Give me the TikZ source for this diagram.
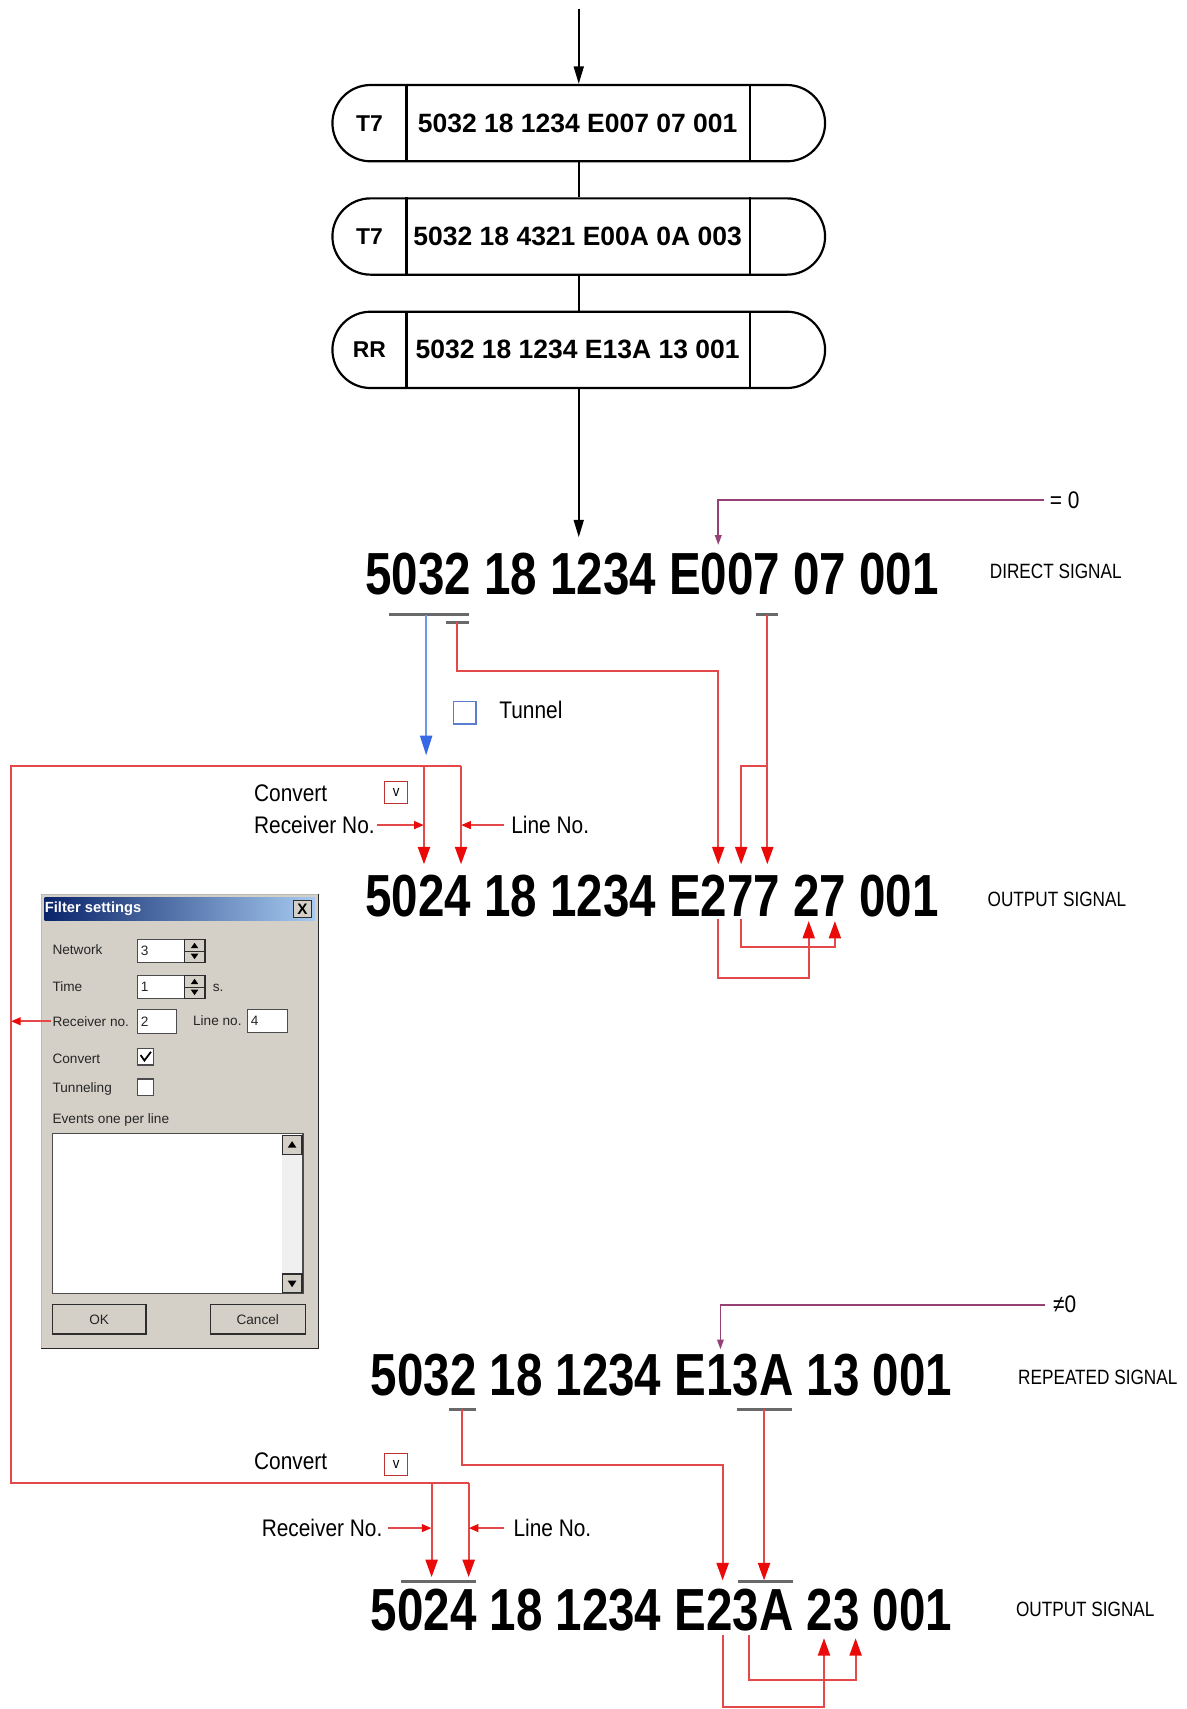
\documentclass[tikz,border=0pt]{standalone}
\usepackage{fontspec}
\setmainfont{Liberation Sans}
\newfontfamily\bigfont[FakeStretch=0.80]{Liberation Sans}
\newfontfamily\notefont[FakeStretch=0.87]{Liberation Sans}
\newfontfamily\sigfont[FakeStretch=0.83]{Liberation Sans}
\usetikzlibrary{arrows.meta,positioning,calc}

\definecolor{lred}{RGB}{228,72,72}
\definecolor{tipred}{RGB}{235,10,10}
\definecolor{lblue}{RGB}{110,150,235}
\definecolor{tipblue}{RGB}{55,105,230}
\definecolor{mauve}{RGB}{150,65,115}
\definecolor{bargray}{RGB}{105,105,105}
\definecolor{cbred}{RGB}{190,50,50}
\definecolor{tunblue}{RGB}{90,125,205}
\definecolor{dlgbg}{RGB}{212,208,200}
\definecolor{dlgtl}{RGB}{10,36,106}
\definecolor{dlgtr}{RGB}{166,202,240}

\tikzset{
  term/.style={draw, line width=2pt, rounded corners=35pt,
               minimum width=452pt, minimum height=70pt},
  termlbl/.style={inner sep=0pt, font=\fontsize{21}{21}\selectfont\bfseries},
  termtxt/.style={inner sep=0pt, font=\fontsize{24.3}{24}\selectfont\bfseries},
  bigsig/.style={inner sep=0pt, anchor=west,
                 font=\bigfont\fontsize{54.5}{55}\selectfont\bfseries},
  siglbl/.style={inner sep=0pt, anchor=west, font=\sigfont\fontsize{19}{19}\selectfont},
  note/.style={inner sep=0pt, anchor=west, font=\notefont\fontsize{22}{22}\selectfont},
  blkln/.style={draw=black, line width=2pt},
  blkarr/.style={blkln, -{Triangle[width=9pt,length=16pt]}},
  redln/.style={draw=lred, line width=2pt},
  redarr/.style={redln, -{Triangle[width=11pt,length=16pt,color=tipred]}},
  redarrs/.style={redln, -{Triangle[width=7pt,length=9pt,color=tipred]}},
  bluearr/.style={draw=lblue, line width=2pt, -{Triangle[width=11pt,length=18pt,color=tipblue]}},
  mauvearr/.style={draw=mauve, line width=1.6pt, -{Triangle[width=6pt,length=9pt]}},
  bar/.style={draw=bargray, line width=3pt},
  cbox/.style={draw=cbred, line width=1.3pt, minimum width=21pt, minimum height=20pt,
               inner sep=0pt, font=\notefont\fontsize{14}{14}\selectfont},
  tbox/.style={draw=tunblue, line width=1.6pt, minimum size=21pt, inner sep=0pt},
  dlglbl/.style={inner sep=0pt, anchor=west, text=black!85,
                 font=\fontsize{12.5}{13}\selectfont},
  dlgttl/.style={inner sep=0pt, anchor=west, text=white,
                 font=\fontsize{13.5}{14}\selectfont\bfseries},
  dlgfld/.style={fill=white, draw=gray!60!black, line width=1.2pt},
  dlgbtn/.style={fill=dlgbg, draw=gray!35!black, line width=1.2pt},
}

\begin{document}
\begin{tikzpicture}[x=1pt,y=-1pt,line join=miter]
\fill[white, use as bounding box] (0,0) rectangle (1089,1568);

% ---- terminals ----
\node[term] (t1) at (531,113) {};
\node[term] (t2) at (531,217) {};
\node[term] (t3) at (531,321) {};
\foreach \t in {t1,t2,t3}{
  \draw[blkln] ($(\t.north west)+(69,0)$) -- ($(\t.south west)+(69,0)$);
  \draw[blkln] ($(\t.north east)+(-70,0)$) -- ($(\t.south east)+(-70,0)$);
}
\node[termlbl] (t1l) at (339,113) {T7};
\node[termtxt] (t1t) at (530,113) {5032 18 1234 E007 07 001};
\node[termlbl] (t2l) at (339,217) {T7};
\node[termtxt] (t2t) at (530,217) {5032 18 4321 E00A 0A 003};
\node[termlbl] (t3l) at (339,321) {RR};
\node[termtxt] (t3t) at (530,321) {5032 18 1234 E13A 13 001};

\coordinate (feed) at (531,8);
\coordinate (sig1in) at (531,493);
\draw[blkarr] (feed) -- (t1.north);
\draw[blkln] (t1.south) -- (t2.north);
\draw[blkln] (t2.south) -- (t3.north);
\draw[blkarr] (t3.south) -- (sig1in);

% ---- signals ----
\node[bigsig] (sig1) at (335,527)  {5032 18 1234 E007 07 001};
\node[bigsig] (sig2) at (335,822)  {5024 18 1234 E277 27 001};
\node[bigsig] (sig3) at (340,1262) {5032 18 1234 E13A 13 001};
\node[bigsig] (sig4) at (340,1477) {5024 18 1234 E23A 23 001};
\node[siglbl] (sig1l) at (908,524)  {DIRECT SIGNAL};
\node[siglbl] (sig2l) at (906,825)  {OUTPUT SIGNAL};
\node[siglbl] (sig3l) at (934,1264) {REPEATED SIGNAL};
\node[siglbl] (sig4l) at (932,1477) {OUTPUT SIGNAL};

% ---- event byte test ----
\node[note] (eq0) at (963,459) {= 0};
\node[note] (ne0) at (966,1197) {≠0};
\coordinate (eq0in) at (659,500);
\coordinate (ne0in) at (661,1238);
\draw[mauvearr, shorten <=5pt] (eq0.west) -| (eq0in);
\draw[mauvearr, shorten <=7pt] (ne0.west) -| (ne0in);

% ---- direct signal -> output ----
\draw[bar] (357,564) -- (430,564);
\draw[bar] (409,571) -- (430,571);
\draw[bar] (694,564) -- (714,564);
\coordinate (s1t) at (391,564);
\coordinate (s1r) at (419,571);
\coordinate (s1e) at (704,564);
\coordinate (s1fork) at (704,703);
\coordinate (tun) at (391,693);
\coordinate (o1r) at (389,793);
\coordinate (o1l) at (423,793);
\coordinate (o1e2) at (659,793);
\coordinate (o1e7a) at (680,793);
\coordinate (o1e7b) at (704,793);

\draw[bluearr] (s1t) -- (tun);
\node[tbox] (tb) at (426.5,654) {};
\node[note] (tunl) at (458,651) {Tunnel};
\draw[redarr] (s1r) |- (659,616) -- (o1e2);
\draw[redarr] (s1e) -- (o1e7b);
\draw[redarr] (s1fork) -| (o1e7a);

% ---- loop from the filter settings ----
\coordinate (lpT) at (10,703);
\coordinate (lpB) at (10,1361);
\coordinate (o2r) at (396,1447);
\coordinate (o2l) at (430,1447);
\draw[redln] (o1l |- lpT) -- (lpT) -- (lpB) -- (o2l |- lpB);
\draw[redarr] (o1r |- lpT) -- (o1r);
\draw[redarr] (o1l |- lpT) -- (o1l);
\draw[redarr] (o2r |- lpB) -- (o2r);
\draw[redarr] (o2l |- lpB) -- (o2l);

\node[note] (cv1) at (233,728) {Convert};
\node[cbox] (cb1) at (363.5,727) {v};
\node[note, anchor=east] (rcv1) at (344,757) {Receiver No.};
\node[note] (ln1) at (469,757) {Line No.};
\draw[redarrs, shorten <=2pt] (rcv1.east) -- (rcv1.east -| o1r);
\draw[redarrs, shorten <=7pt] (ln1.west) -- (ln1.west -| o1l);

% ---- output 1: event copied ----
\coordinate (o1d2) at (659,843);
\coordinate (o1d7) at (680,843);
\coordinate (o1u2) at (742,845);
\coordinate (o1u7) at (766,845);
\draw[redarr] (o1d2) |- (742,897) -- (o1u2);
\draw[redarr] (o1d7) |- (766,869) -- (o1u7);

% ---- repeated signal -> output ----
\draw[bar] (412,1293) -- (437,1293);
\draw[bar] (676,1293) -- (727,1293);
\draw[bar] (368,1451) -- (437,1451);
\draw[bar] (677,1451) -- (728,1451);
\coordinate (s3r) at (424,1293);
\coordinate (s3e) at (701,1293);
\coordinate (o2e2) at (663,1450);
\coordinate (o2e3) at (701,1450);
\draw[redarr] (s3r) |- (663,1344) -- (o2e2);
\draw[redarr] (s3e) -- (o2e3);

\node[note] (cv2) at (233,1341) {Convert};
\node[cbox] (cb2) at (363.5,1343.5) {v};
\node[note, anchor=east] (rcv2) at (351,1402) {Receiver No.};
\node[note] (ln2) at (471,1402) {Line No.};
\draw[redarrs, shorten <=5pt] (rcv2.east) -- (rcv2.east -| o2r);
\draw[redarrs, shorten <=9pt] (ln2.west) -- (ln2.west -| o2l);

\coordinate (o2d2) at (663,1500);
\coordinate (o2d3) at (687,1500);
\coordinate (o2u2) at (756,1503);
\coordinate (o2u3) at (785,1503);
\draw[redarr] (o2d2) |- (756,1566) -- (o2u2);
\draw[redarr] (o2d3) |- (785,1541) -- (o2u3);

% ---- filter settings dialog ----
\draw[fill=dlgbg, draw=gray!55] (38,820) rectangle (292,1237);
\draw[gray!30!black, line width=1.2pt] (292,820) -- (292,1237) -- (38,1237);
\shade[left color=dlgtl, right color=dlgtr] (41,823) rectangle (289,845);
\node[dlgttl] (dlgt) at (41,834) {Filter settings};
\draw[dlgbtn] (269,826) rectangle (286,842);
\node[inner sep=0pt, font=\fontsize{14}{14}\selectfont\bfseries] (dlgx) at (277.5,834.5) {X};

\node[dlglbl] (dnet) at (48,871) {Network};
\node[dlglbl] (dtime) at (48,905) {Time};
\node[dlglbl] (dlgrecv) at (48,937) {Receiver no.};
\node[dlglbl] (dline) at (177,936) {Line no.};
\node[dlglbl] (dconv) at (48,971) {Convert};
\node[dlglbl] (dtun) at (48,999) {Tunneling};
\node[dlglbl] (devt) at (48,1028) {Events one per line};
\node[dlglbl] (dsec) at (195,906) {s.};

\foreach \yt/\val in {862/3, 895/1}{
  \draw[dlgfld] (126,\yt) rectangle (169,\yt+21);
  \node[dlglbl] at (129,\yt+10.5) {\val};
  \draw[dlgbtn] (169,\yt) rectangle (188,\yt+21);
  \draw[gray!35!black] (169,\yt+10.5) -- (188,\yt+10.5);
  \fill (178.5,\yt+3) -- (175,\yt+8) -- (182,\yt+8) -- cycle;
  \fill (178.5,\yt+18) -- (175,\yt+13) -- (182,\yt+13) -- cycle;
}
\draw[dlgfld] (126,926) rectangle (162,948);
\node[dlglbl] (drecvv) at (129,937) {2};
\draw[dlgfld] (227,926) rectangle (264,947);
\node[dlglbl] (dlinev) at (230,936.5) {4};
\draw[dlgfld] (126,962) rectangle (141,977);
\draw[line width=1.6pt] (129,968) -- (132.5,973) -- (138.5,965);
\draw[dlgfld] (126,990) rectangle (141,1005);

\draw[dlgfld] (48,1040) rectangle (278,1187);
\fill[gray!12] (259,1042) rectangle (277,1186);
\draw[dlgbtn] (259,1042) rectangle (277,1059);
\draw[dlgbtn] (259,1169) rectangle (277,1186);
\fill (268,1047) -- (264,1053) -- (272,1053) -- cycle;
\fill (268,1181) -- (264,1175) -- (272,1175) -- cycle;

\draw[dlgbtn] (48,1197) rectangle (134,1224);
\draw[dlgbtn] (193,1197) rectangle (280,1224);
\node[dlglbl, anchor=center] (dok) at (91,1210.5) {OK};
\node[dlglbl, anchor=center] (dcancel) at (236.5,1210.5) {Cancel};

\draw[redarrs, shorten <=1pt] (dlgrecv.west) -- (dlgrecv.west -| lpT);

\end{tikzpicture}
\end{document}
